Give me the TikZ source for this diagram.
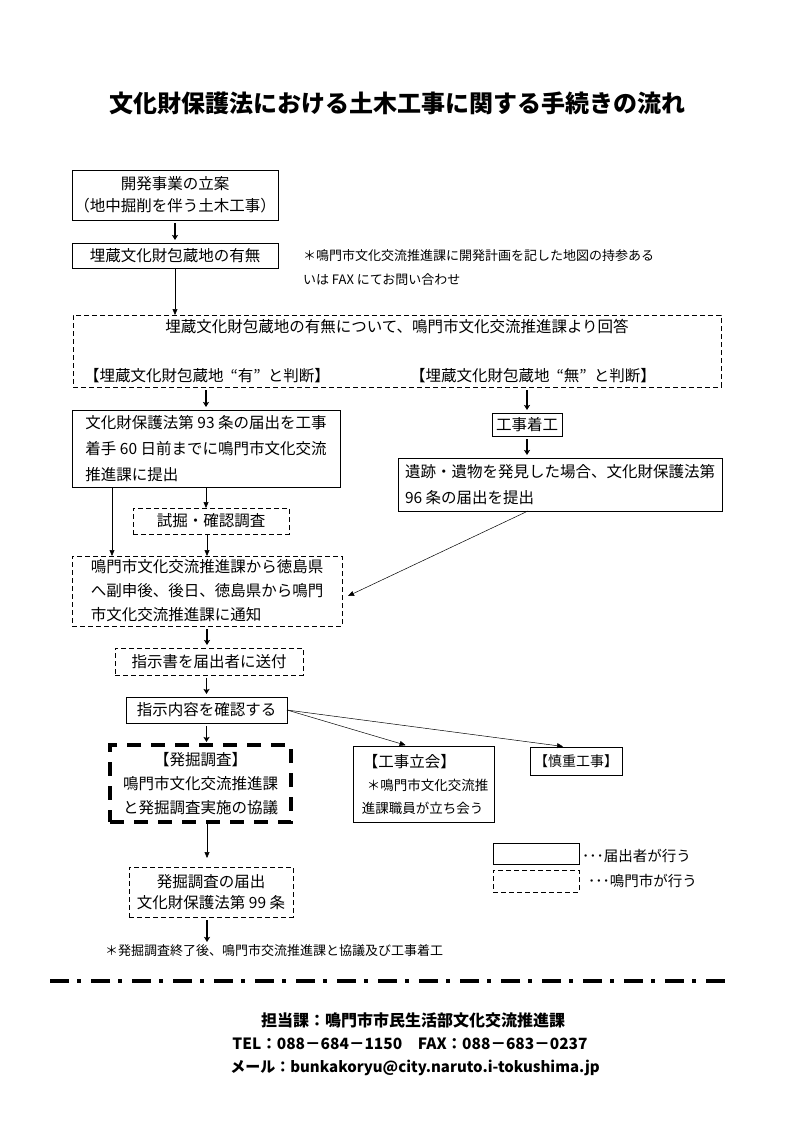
\documentclass[tikz,border=0pt]{standalone}
\usepackage{fontspec}
\setmainfont{Noto Sans CJK JP}
\usetikzlibrary{arrows.meta,calc}
\begin{document}
\begin{tikzpicture}[x=1pt,y=-1pt,
  every node/.style={inner sep=0pt, outer sep=0pt},
  fs/.style={font=\fontsize{15.5}{26}\selectfont},
  sbox/.style={draw, line width=0.8pt, fs, align=center},
  dbox/.style={draw, line width=1pt, dash pattern=on 5pt off 3pt, fs, align=center},
  tbox/.style={draw, line width=3.5pt, dash pattern=on 14pt off 10pt, fs, align=center},
  conn/.style={line width=0.5pt, -{Triangle[length=6pt,width=5pt]}},
  darr/.style={line width=1.3pt, -{Stealth[length=5pt,width=6pt,inset=1pt]}, shorten <=3pt, shorten >=3pt},
  small/.style={font=\fontsize{13}{24}\selectfont},
]
\useasboundingbox (0,0) rectangle (794,1123);

% title
\node[font=\fontsize{24}{28}\selectfont\bfseries] (title) at (397,103) {文化財保護法における土木工事に関する手続きの流れ};

% top
\node[sbox, font=\fontsize{15.5}{22}\selectfont, minimum width=206pt, minimum height=50pt] (start) at (175,195) {開発事業の立案\\（地中掘削を伴う土木工事）};
\node[sbox, minimum width=206pt, minimum height=25pt] (exist) at (175,255.5) {埋蔵文化財包蔵地の有無};
\node[small, anchor=west] (memo1) at (303,256) {＊鳴門市文化交流推進課に開発計画を記した地図の持参ある};
\node[small, anchor=west] (memo2) at (303,280) {いは FAX にてお問い合わせ};

% answer box
\node[dbox, minimum width=648pt, minimum height=72pt] (ans) at (397,351) {};
\node[fs] (anstxt) at (397,327) {埋蔵文化財包蔵地の有無について、鳴門市文化交流推進課より回答};
\node[fs] (ari) at (207,376) {【埋蔵文化財包蔵地\hspace{7pt}“有”\hspace{7pt}と判断】};
\node[fs] (nashi) at (533,376) {【埋蔵文化財包蔵地\hspace{7pt}“無”\hspace{7pt}と判断】};

% left branch
\node[sbox, align=left, minimum width=268pt, minimum height=77pt] (box93) at (206,448.5) {文化財保護法第 93 条の届出を工事\\着手 60 日前までに鳴門市文化交流\\推進課に提出};
\node[dbox, minimum width=156pt, minimum height=26pt] (shikutsu) at (211,521) {試掘・確認調査};
\node[dbox, align=left, minimum width=270pt, minimum height=70pt, font=\fontsize{15.5}{24}\selectfont] (tsuchi) at (207,591) {鳴門市文化交流推進課から徳島県\\へ副申後、後日、徳島県から鳴門\\市文化交流推進課に通知};

% right branch
\node[sbox, minimum width=70pt, minimum height=23pt] (chakko) at (527,424.5) {工事着工};
\node[sbox, align=left, minimum width=324pt, minimum height=53pt] (hakken) at (560,484.5) {遺跡・遺物を発見した場合、文化財保護法第\\96 条の届出を提出};

% lower
\node[dbox, minimum width=188pt, minimum height=27pt] (shijisho) at (209,661.5) {指示書を届出者に送付};
\node[sbox, minimum width=161pt, minimum height=26pt] (shiji) at (206.5,710) {指示内容を確認する};
\node[tbox, font=\fontsize{15.5}{24}\selectfont, minimum width=181pt, minimum height=77pt] (hakkutsu) at (200.5,783.5) {【発掘調査】\\鳴門市文化交流推進課\\と発掘調査実施の協議};
\node[sbox, align=left, minimum width=141pt, minimum height=76pt, font=\fontsize{15.5}{25}\selectfont] (tachiai) at (423.5,784) {\hspace{4pt}【工事立会】\\[-2pt]{\fontsize{13.5}{22}\selectfont\hspace{8pt}＊鳴門市文化交流推}\\[-2pt]{\fontsize{13.5}{22}\selectfont\hspace{3pt}進課職員が立ち会う}};
\node[sbox, font=\fontsize{14}{20}\selectfont, minimum width=92pt, minimum height=28pt] (shincho) at (576,761) {【慎重工事】};
\node[dbox, font=\fontsize{15.5}{21}\selectfont, minimum width=164pt, minimum height=50pt] (todoke) at (211,892) {発掘調査の届出\\文化財保護法第 99 条};
\node[small, anchor=west] (note) at (105,951) {＊発掘調査終了後、鳴門市交流推進課と協議及び工事着工};

% legend
\node[sbox, minimum width=86pt, minimum height=21pt] (legS) at (536,853.5) {};
\node[font=\fontsize{14.5}{18}\selectfont, anchor=west] (legStxt) at (582,856) {･･･届出者が行う};
\node[dbox, minimum width=86pt, minimum height=22pt] (legD) at (536,881) {};
\node[font=\fontsize{14.5}{18}\selectfont, anchor=west] (legDtxt) at (588,881) {･･･鳴門市が行う};

% connectors
\draw[darr] (start) -- (exist);
\draw[conn] (exist.south) -- (exist.south |- ans.north);
\draw[darr] (box93.north |- ans.south) -- (box93.north);
\draw[darr] (chakko.north |- ans.south) -- (chakko.north);
\draw[darr] (chakko.south) -- (chakko.south |- hakken.north);
\draw[conn] (box93.south) -- (box93.south |- shikutsu.north);
\draw[conn] (tsuchi.north |- shikutsu.south) -- (tsuchi.north);
\path ([xshift=-94pt]box93.south) coordinate (b93l);
\draw[conn] (b93l) -- (b93l |- tsuchi.north);
\path ([xshift=-32pt]hakken.south) coordinate (hk);
\draw[conn] (hk) -- ($(tsuchi.east)+(6,5)$);
\draw[darr] (tsuchi.south) -- (tsuchi.south |- shijisho.north);
\draw[darr] (shiji.north |- shijisho.south) -- (shiji.north);
\draw[darr] (shiji.south) -- (shiji.south |- hakkutsu.north);
\draw[conn, shorten >=3pt] (shiji.east) -- ([xshift=-15pt]tachiai.north);
\draw[conn, shorten >=4pt] (shiji.east) -- ([xshift=-9pt]shincho.north);
\path ([xshift=6.5pt]hakkutsu.south) coordinate (hks);
\draw[conn, shorten <=2pt, shorten >=9pt] (hks) -- (hks |- todoke.north);
\path ([xshift=-4pt]todoke.south) coordinate (tds);
\draw[darr] (tds) -- (tds |- note.north);

% separator
\coordinate (sepL) at (50,981);
\coordinate (sepR) at (728,981);
\draw[line width=4pt, dash pattern=on 19pt off 8pt on 4pt off 10pt] (sepL) -- (sepR);

% footer
\node[font=\fontsize{16}{20}\selectfont\bfseries] (f1) at (413,1020) {担当課：鳴門市市民生活部文化交流推進課};
\node[font=\fontsize{15.5}{20}\selectfont\bfseries] (f2) at (410,1044) {TEL：088－684－1150　FAX：088－683－0237};
\node[font=\fontsize{15}{20}\selectfont\bfseries] (f3) at (415,1068) {メール：bunkakoryu@city.naruto.i-tokushima.jp};
\end{tikzpicture}
\end{document}
